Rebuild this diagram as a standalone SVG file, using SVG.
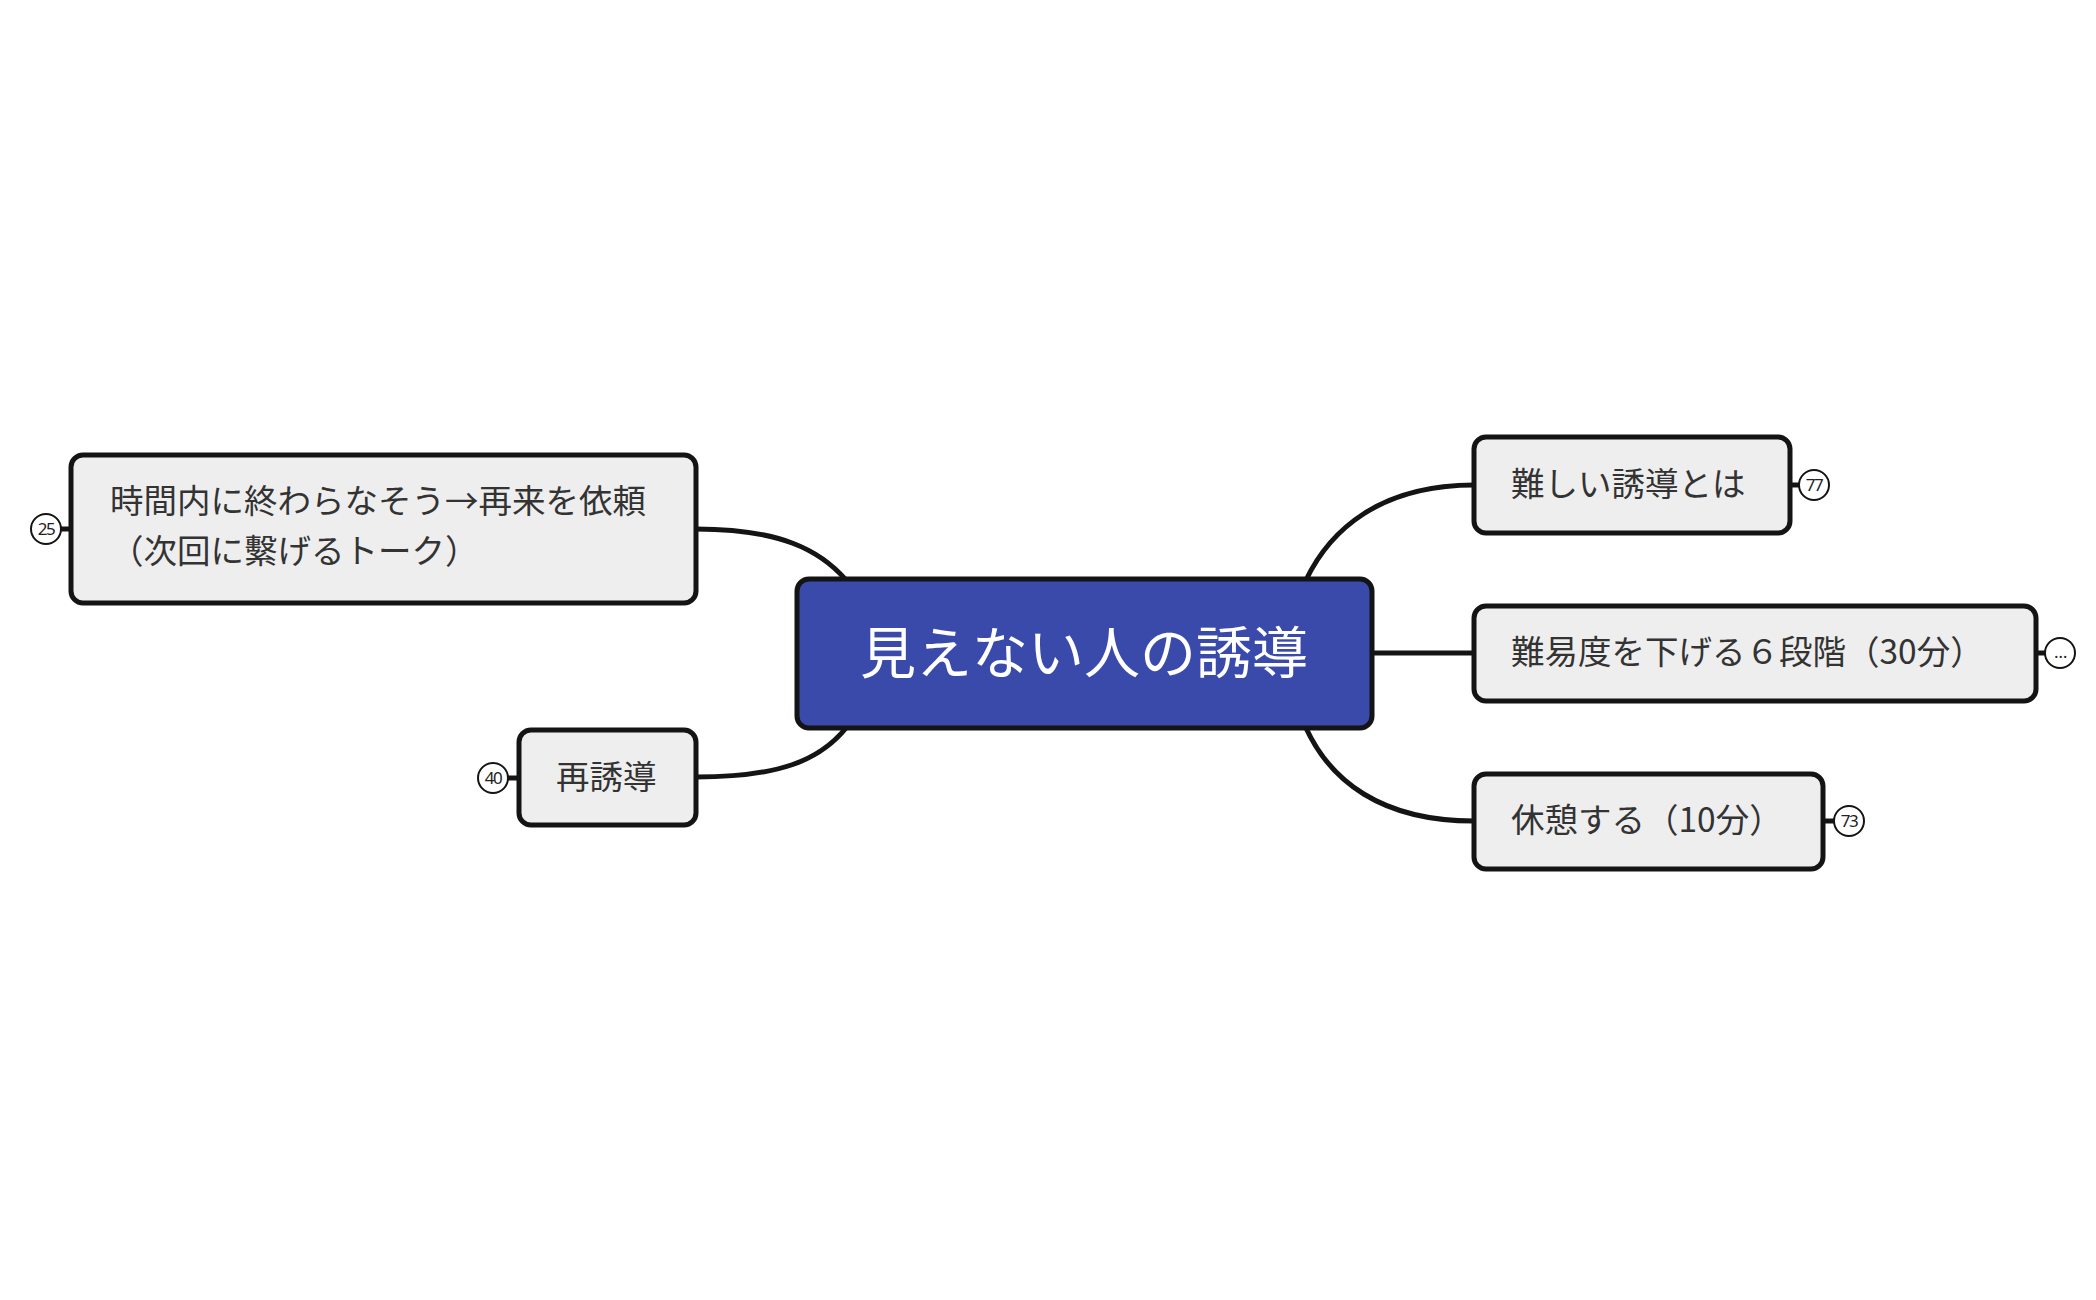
<svg xmlns="http://www.w3.org/2000/svg" width="2096" height="1300" viewBox="0 0 2096 1300">
<style>
.n{fill:#eeeeee;stroke:#141414;stroke-width:5}
.t{font-family:"Noto Sans CJK JP","Noto Sans",sans-serif;font-size:33.5px;fill:#333}
.c{fill:none;stroke:#141414;stroke-width:5}
.b{fill:#fff;stroke:#141414;stroke-width:2}
.bt{font-family:"Noto Sans","Noto Sans CJK JP",sans-serif;font-size:17px;fill:#222;text-anchor:middle;letter-spacing:-1.5px}
</style>
<rect width="2096" height="1300" fill="#fff"/>
<g id="connectors">
<path class="c" d="M696 529 C780 529 820 550 846 580"/>
<path class="c" d="M696 777 C780 777 820 760 846 728"/>
<path class="c" d="M1474 485 C1380 485 1330 530 1306 580"/>
<line class="c" x1="1372" y1="653" x2="1474" y2="653"/>
<path class="c" d="M1474 821 C1380 821 1330 780 1306 728"/>
<line class="c" x1="61" y1="529" x2="71" y2="529"/>
<line class="c" x1="508" y1="778" x2="519" y2="778"/>
<line class="c" x1="1790" y1="485" x2="1799" y2="485"/>
<line class="c" x1="2036" y1="653" x2="2045" y2="653"/>
<line class="c" x1="1823" y1="821" x2="1834" y2="821"/>
</g>
<g id="center">
<rect x="797" y="579" width="575" height="149" rx="12" fill="#3a4aab" stroke="#141414" stroke-width="5"/>
<text x="1084" y="673" text-anchor="middle" font-family="Noto Sans CJK JP,sans-serif" font-size="56" fill="#fff">見えない人の誘導</text>
</g>
<g id="node-left1">
<rect class="n" x="71" y="455" width="625" height="148" rx="12"/>
<text class="t" x="110" y="513">時間内に終わらなそう→再来を依頼</text>
<text class="t" x="110" y="563">（次回に繫げるトーク）</text>
<circle class="b" cx="46" cy="529" r="15"/><text class="bt" x="46" y="535">25</text>
</g>
<g id="node-left2">
<rect class="n" x="519" y="730" width="177" height="95" rx="12"/>
<text class="t" x="556" y="789">再誘導</text>
<circle class="b" cx="493" cy="778" r="15"/><text class="bt" x="493" y="784">40</text>
</g>
<g id="node-right1">
<rect class="n" x="1474" y="437" width="316" height="96" rx="12"/>
<text class="t" x="1511" y="496">難しい誘導とは</text>
<circle class="b" cx="1814" cy="485" r="15"/><text class="bt" x="1814" y="491">77</text>
</g>
<g id="node-right2">
<rect class="n" x="1474" y="606" width="562" height="95" rx="12"/>
<text class="t" x="1511" y="664">難易度を下げる６段階（30分）</text>
<circle class="b" cx="2060" cy="653" r="15"/><text class="bt" x="2060" y="658">…</text>
</g>
<g id="node-right3">
<rect class="n" x="1474" y="774" width="349" height="95" rx="12"/>
<text class="t" x="1511" y="832">休憩する（10分）</text>
<circle class="b" cx="1849" cy="821" r="15"/><text class="bt" x="1849" y="827">73</text>
</g>
</svg>
